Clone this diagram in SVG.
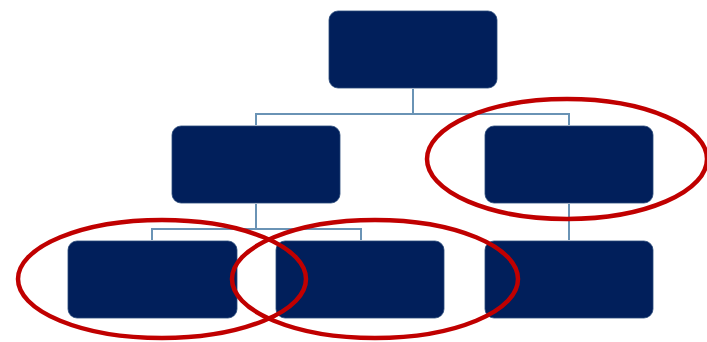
<svg xmlns="http://www.w3.org/2000/svg" width="707" height="342" viewBox="0 0 707 342">
  <style>
    .box { fill: #011f5b; stroke: #2a4a7a; stroke-width: 0.8; }
    .link { fill: none; stroke: #6a93b5; stroke-width: 2; }
    .ring { fill: none; stroke: #c00000; stroke-width: 4.5; }
  </style>
  <rect width="707" height="342" fill="#ffffff"/>
  <g id="connectors">
    <path class="link" d="M413 89 V114 M256 125 V114 H569 V125"/>
    <path class="link" d="M256 204 V229 M152 240 V229 H361 V240"/>
    <path class="link" d="M569 204 V240"/>
  </g>
  <g id="node-top"><rect class="box" x="329" y="11" width="168" height="77" rx="9"/></g>
  <g id="node-mid-left"><rect class="box" x="172" y="126" width="168" height="77" rx="9"/></g>
  <g id="node-mid-right"><rect class="box" x="485" y="126" width="168" height="77" rx="9"/></g>
  <g id="node-bottom-left"><rect class="box" x="68" y="241" width="169" height="77" rx="9"/></g>
  <g id="node-bottom-mid"><rect class="box" x="276" y="241" width="168" height="77" rx="9"/></g>
  <g id="node-bottom-right"><rect class="box" x="485" y="241" width="168" height="77" rx="9"/></g>
  <g id="highlights">
    <ellipse class="ring" cx="162" cy="279" rx="144" ry="59"/>
    <ellipse class="ring" cx="375" cy="279" rx="143" ry="59"/>
    <ellipse class="ring" cx="567" cy="159" rx="140" ry="60"/>
  </g>
</svg>
